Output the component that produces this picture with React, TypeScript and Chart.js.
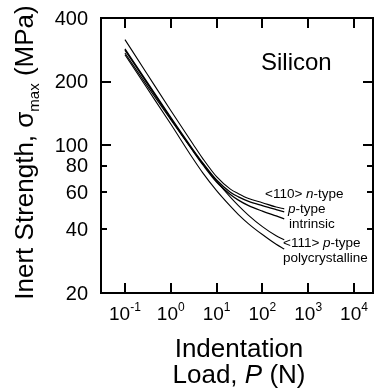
import React, { useEffect, useRef } from "react";
import { Chart, registerables } from "chart.js";

Chart.register(...registerables);

// Indentation load P (N)
const loads = [0.1, 0.3, 1, 3, 5, 10, 20, 30, 50, 100, 200, 300];
// Inert strength (MPa)
const nType110 = [316, 218.6, 146, 102, 86.5, 71, 62, 59, 56, 53.5, 51, 50];
const pType110 = [286, 200, 135.5, 96, 82.5, 68.5, 60, 57, 54.3, 51.8, 49.6, 48.4];
const intrinsic110 = [282, 197.5, 133.5, 94.5, 81, 67, 58.5, 55, 51.8, 48.8, 46.3, 44.9];
const pType111 = [273, 192, 132, 94.8, 81.8, 67.6, 56.8, 51.8, 46.6, 41.2, 37.3, 35.7];
const polycrystalline = [268, 187, 126, 87, 74, 61, 51.5, 47, 42.5, 37.8, 34, 32.3];

const xTickValues = [0.1, 1, 10, 100, 1000, 10000];
const xTickExponents = ["-1", "0", "1", "2", "3", "4"];
const yTickValues = [400, 200, 100, 80, 60, 40, 20];
const yTickLabels = ["400", "200", "100", "80", "60", "40", "20"];
const yLongTicks = [400, 200, 100, 20];

const FONT = '"Liberation Sans", Arial, Helvetica, sans-serif';

type Seg = { text: string; size: number; italic?: boolean; dy?: number };

function segFont(s: Seg) {
  return `${s.italic ? "italic " : ""}${s.size}px ${FONT}`;
}

function drawRich(
  ctx: CanvasRenderingContext2D,
  segs: Seg[],
  x: number,
  y: number,
  align: "left" | "center" | "right"
) {
  let w = 0;
  for (const s of segs) {
    ctx.font = segFont(s);
    w += ctx.measureText(s.text).width;
  }
  let cx = align === "center" ? x - w / 2 : align === "right" ? x - w : x;
  ctx.textAlign = "left";
  ctx.textBaseline = "alphabetic";
  for (const s of segs) {
    ctx.font = segFont(s);
    ctx.fillText(s.text, cx, y + (s.dy || 0));
    cx += ctx.measureText(s.text).width;
  }
}

const decorPlugin = {
  id: "decor",
  afterDraw(chart: any) {
    const ctx: CanvasRenderingContext2D = chart.ctx;
    const { left, top, right, bottom } = chart.chartArea;
    const xs = chart.scales.x;
    const ys = chart.scales.y;
    ctx.save();
    ctx.strokeStyle = "#000";
    ctx.fillStyle = "#000";
    ctx.lineWidth = 2;
    ctx.strokeRect(left, top, right - left, bottom - top);

    // x ticks (inward, bottom & top)
    ctx.beginPath();
    for (const v of xTickValues) {
      const px = Math.round(xs.getPixelForValue(v));
      ctx.moveTo(px, bottom);
      ctx.lineTo(px, bottom - 10);
      ctx.moveTo(px, top);
      ctx.lineTo(px, top + 10);
    }
    // y ticks (inward, left & right)
    for (const v of yTickValues) {
      const py = Math.round(ys.getPixelForValue(v));
      const len = yLongTicks.includes(v) ? 10 : 6;
      ctx.moveTo(left, py);
      ctx.lineTo(left + len, py);
      ctx.moveTo(right, py);
      ctx.lineTo(right - len, py);
    }
    ctx.stroke();

    // x tick labels
    xTickValues.forEach((v, i) => {
      const px = xs.getPixelForValue(v);
      drawRich(
        ctx,
        [
          { text: "10", size: 19 },
          { text: xTickExponents[i], size: 12, dy: -9 },
        ],
        px,
        bottom + 27,
        "center"
      );
    });

    // y tick labels
    yTickValues.forEach((v, i) => {
      const py = ys.getPixelForValue(v);
      ctx.font = `20px ${FONT}`;
      ctx.textAlign = "right";
      ctx.textBaseline = "middle";
      ctx.fillText(yTickLabels[i], left - 13, py + 1);
    });

    // x axis title
    const cxTitle = (left + right) / 2 + 2;
    drawRich(ctx, [{ text: "Indentation", size: 26 }], cxTitle, bottom + 64, "center");
    drawRich(
      ctx,
      [
        { text: "Load, ", size: 26 },
        { text: "P", size: 26, italic: true },
        { text: " (N)", size: 26 },
      ],
      cxTitle,
      bottom + 90,
      "center"
    );

    // y axis title (rotated)
    ctx.save();
    ctx.translate(33, (top + bottom) / 2 - 3);
    ctx.rotate(-Math.PI / 2);
    drawRich(
      ctx,
      [
        { text: "Inert Strength, σ", size: 26 },
        { text: "max", size: 15, dy: 6 },
        { text: " (MPa)", size: 26 },
      ],
      0,
      0,
      "center"
    );
    ctx.restore();

    // annotations
    drawRich(ctx, [{ text: "Silicon", size: 24 }], left + 160, top + 52, "left");
    const a = 13.5;
    drawRich(
      ctx,
      [
        { text: "<110> ", size: a },
        { text: "n", size: a, italic: true },
        { text: "-type", size: a },
      ],
      left + 164,
      top + 180,
      "left"
    );
    drawRich(
      ctx,
      [
        { text: "p", size: a, italic: true },
        { text: "-type", size: a },
      ],
      left + 187,
      top + 195,
      "left"
    );
    drawRich(ctx, [{ text: "intrinsic", size: a }], left + 188, top + 210, "left");
    drawRich(
      ctx,
      [
        { text: "<111> ", size: a },
        { text: "p", size: a, italic: true },
        { text: "-type", size: a },
      ],
      left + 182,
      top + 229,
      "left"
    );
    drawRich(ctx, [{ text: "polycrystalline", size: a }], left + 182, top + 244, "left");
    ctx.restore();
  },
};

export default function App() {
  const canvasRef = useRef<HTMLCanvasElement | null>(null);

  useEffect(() => {
    const canvas = canvasRef.current;
    if (!canvas) return;
    const series = [
      { name: "<110> n-type", values: nType110, width: 1.1 },
      { name: "<110> p-type", values: pType110, width: 1.3 },
      { name: "<110> intrinsic", values: intrinsic110, width: 1.3 },
      { name: "<111> p-type", values: pType111, width: 1.1 },
      { name: "polycrystalline", values: polycrystalline, width: 1.1 },
    ];
    const chart = new Chart(canvas, {
      type: "line",
      data: {
        datasets: series.map((s) => ({
          label: s.name,
          data: loads.map((p, i) => ({ x: p, y: s.values[i] })),
          borderColor: "#000",
          borderWidth: s.width,
          pointRadius: 0,
          fill: false,
          cubicInterpolationMode: "monotone" as const,
        })),
      },
      options: {
        animation: false,
        responsive: false,
        devicePixelRatio: 1,
        events: [],
        layout: { padding: { top: 18, right: 3, left: 0, bottom: 0 } },
        plugins: { legend: { display: false }, tooltip: { enabled: false } },
        scales: {
          x: {
            type: "logarithmic",
            min: 0.03,
            max: 26000,
            grid: { display: false },
            border: { display: false },
            ticks: { display: false },
            afterFit: (s: any) => {
              s.height = 97;
            },
          },
          y: {
            type: "logarithmic",
            min: 20,
            max: 400,
            grid: { display: false },
            border: { display: false },
            ticks: { display: false },
            afterFit: (s: any) => {
              s.width = 101;
            },
          },
        },
      },
      plugins: [decorPlugin],
    });
    return () => chart.destroy();
  }, []);

  return (
    <div
      style={{
        position: "fixed",
        left: 0,
        top: 0,
        width: 376,
        height: 390,
        background: "#fff",
      }}
    >
      <canvas ref={canvasRef} width={376} height={390} style={{ display: "block" }} />
    </div>
  );
}
